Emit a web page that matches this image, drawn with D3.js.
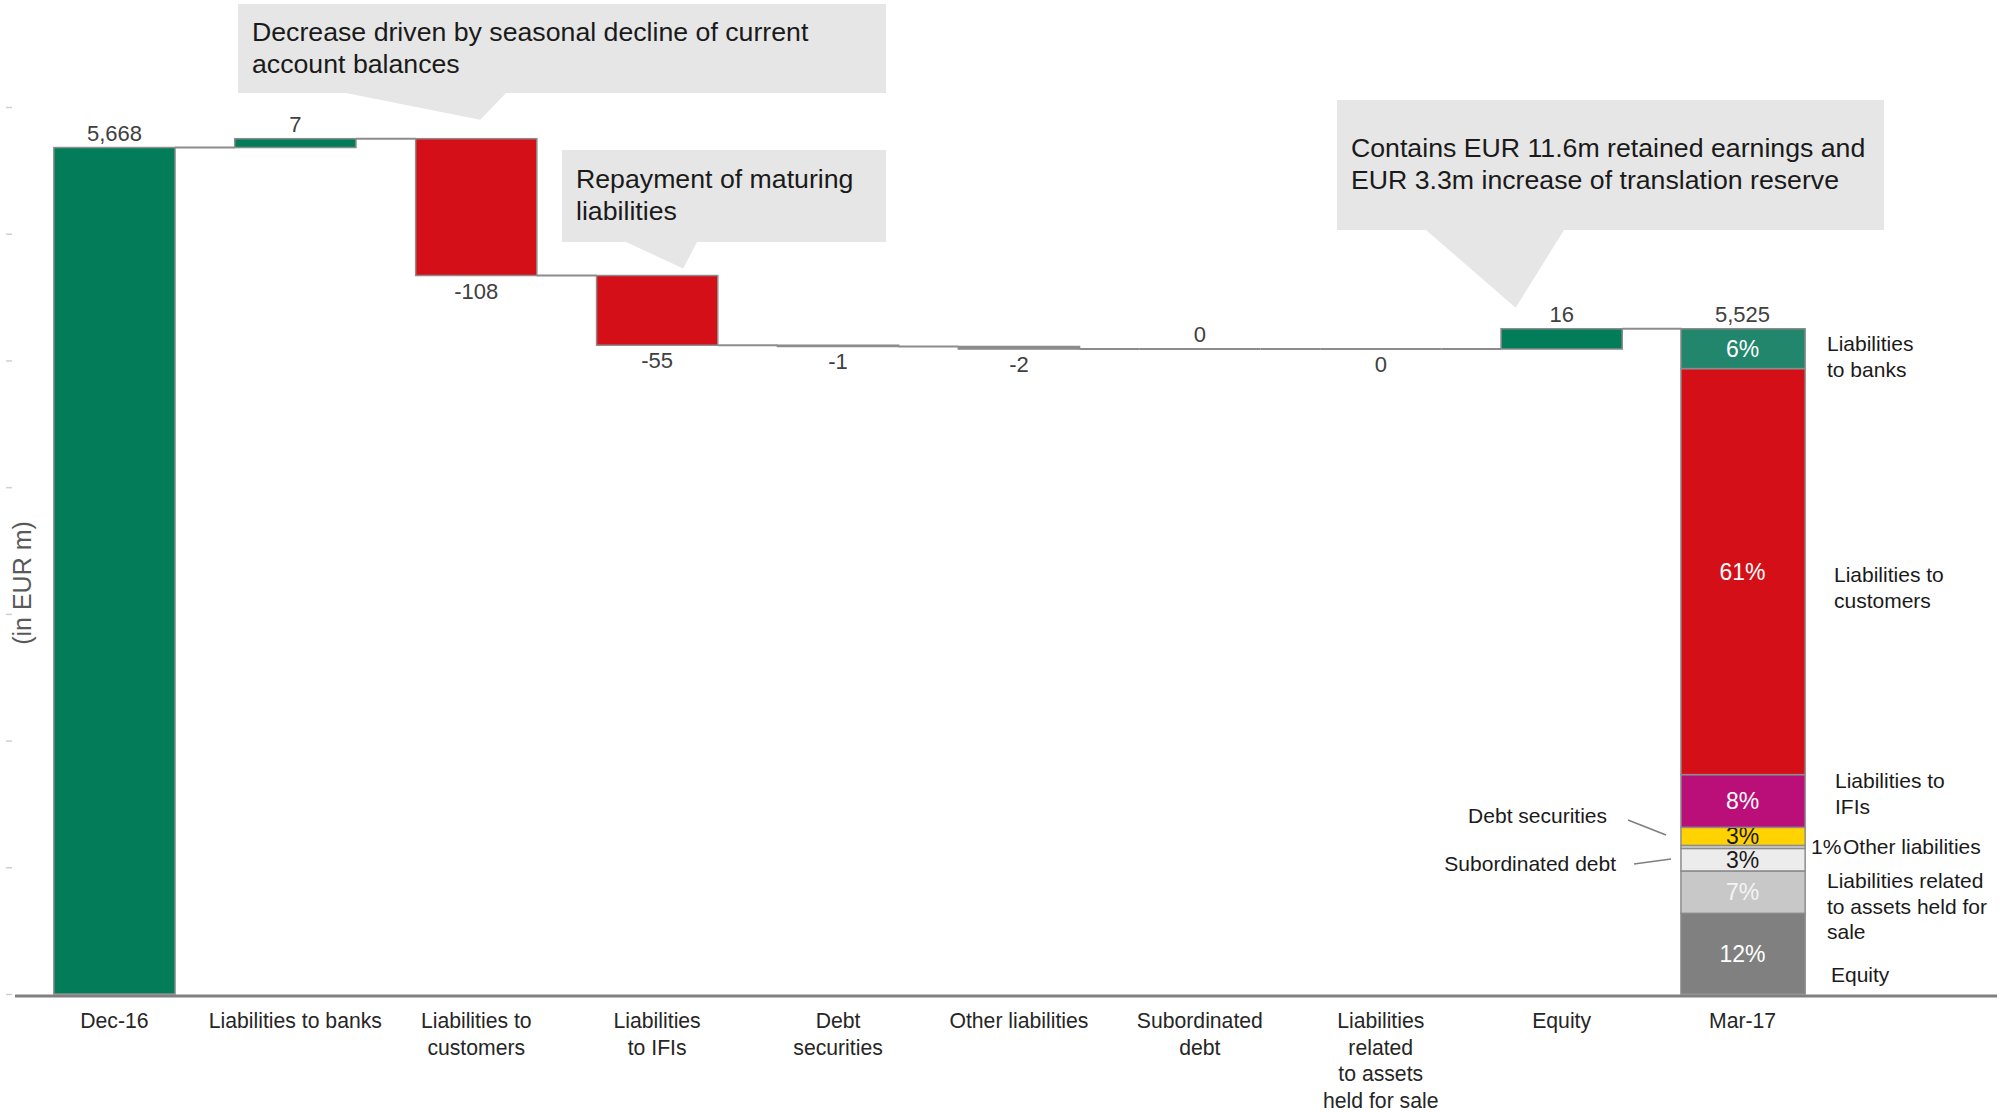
<!DOCTYPE html>
<html><head><meta charset="utf-8">
<script src="https://cdn.jsdelivr.net/npm/d3@7"></script>
<style>body{margin:0;background:#fff}svg{display:block;font-family:"Liberation Sans",Arial,sans-serif}</style>
</head><body><svg id="chart" width="2008" height="1112"></svg>
<script>
// ---- data ----
const categories = ["Dec-16","Liabilities to banks","Liabilities to customers","Liabilities to IFIs","Debt securities","Other liabilities","Subordinated debt","Liabilities related to assets held for sale","Equity","Mar-17"];
const categoryLines = [["Dec-16"],["Liabilities to banks"],["Liabilities to","customers"],["Liabilities","to IFIs"],["Debt","securities"],["Other liabilities"],["Subordinated","debt"],["Liabilities","related","to assets","held for sale"],["Equity"],["Mar-17"]];
const changes = [5668, 7, -108, -55, -1, -2, 0, 0, 16, 5525];
const barKinds = ["total","delta","delta","delta","delta","delta","delta","delta","delta","total"];
const valueLabels = ["5,668","7","-108","-55","-1","-2","0","0","16","5,525"];
const labelSide = ["above","above","below","below","below","below","above","below","above","above"];
const yTicks = [5000,5100,5200,5300,5400,5500,5600,5700];

const mar17Segments = ["Liabilities to banks","Liabilities to customers","Liabilities to IFIs","Debt securities","Other liabilities","Subordinated debt","Liabilities related to assets held for sale","Equity"];
const mar17Values = [331, 3372, 438, 150, 25, 187, 352, 670];
const mar17ShareLabels = ["6%","61%","8%","3%","","3%","7%","12%"];
const mar17Colors = ["#21866c","#d50f17","#ba0f78","#ffd200","#d9d9d9","#ececec","#c8c8c8","#808080"];
const mar17LabelColors = ["#ffffff","#ffffff","#ffffff","#1a1a1a","#1a1a1a","#1a1a1a","#f4f4f4","#ffffff"];

const callouts = [
  {lines:["Decrease driven by seasonal decline of current","account balances"], box:[238,4,648,89], base:[346,506], cat:2, tipDx:4, tipDy:-19},
  {lines:["Repayment of maturing","liabilities"], box:[562,150,324,92], base:[626,697], cat:3, tipDx:26, tipDy:-7},
  {lines:["Contains EUR 11.6m retained earnings and","EUR 3.3m increase of translation reserve"], box:[1337,100,547,130], base:[1426,1564], cat:8, tipDx:-46, tipDy:-21}
];

// ---- scales ----
const svg = d3.select("#chart");
const x = d3.scaleBand().domain(categories).range([24, 1833]).paddingInner(0.33).paddingOuter(0.165);
const y = d3.scaleLinear().domain([5000, 5700]).range([994, 107]);
const bw = x.bandwidth();

// compute waterfall
let run = 0;
const bars = categories.map((c,i)=>{
  let lo, hi, end;
  if (barKinds[i]==="total"){ lo = 5000; hi = changes[i]; run = changes[i]; end = run; }
  else { const s = run; run += changes[i]; lo = Math.min(s,run); hi = Math.max(s,run); end = run; }
  return {c, i, lo, hi, end, v: changes[i]};
});

// y ticks (unlabelled)
const yAxis = svg.append("g").attr("transform","translate(12,0)")
  .call(d3.axisLeft(y).tickValues(yTicks).tickFormat("").tickSize(6));
yAxis.select(".domain").remove();
yAxis.selectAll("line").attr("stroke","#d0d0d0").attr("stroke-width",1.5);

svg.append("text").attr("transform","translate(31,583) rotate(-90)")
  .attr("text-anchor","middle").attr("font-size",25).attr("fill","#595959").text("(in EUR m)");

// callouts
callouts.forEach(co=>{
  const [bx,by,w,h] = co.box;
  const tx = x(categories[co.cat]) + bw/2 + co.tipDx;
  const ty = y(bars[co.cat].hi) + co.tipDy;
  const p = `M${bx},${by}H${bx+w}V${by+h}H${co.base[1]}L${tx},${ty}L${co.base[0]},${by+h}H${bx}Z`;
  svg.append("path").attr("d",p).attr("fill","#e6e6e6");
  const t = svg.append("text").attr("font-size",26.7).attr("fill","#1a1a1a");
  co.lines.forEach((l,k)=> t.append("tspan").attr("x",bx+14).attr("y",by+ (h - co.lines.length*32)/2 + 32*k + 24).text(l));
});

// connectors
const conn = svg.append("g").attr("stroke","#8c8c8c").attr("stroke-width",2);
for (let i=0;i<bars.length-1;i++){
  const lvl = bars[i].end;
  conn.append("line").attr("x1",x(categories[i])+bw).attr("x2",x(categories[i+1]))
    .attr("y1",y(lvl)).attr("y2",y(lvl));
}

// delta & first total bars
const barG = svg.append("g");
bars.filter(b=>b.i<9).forEach(b=>{
  const fill = b.v>=0 ? "#037c5a" : "#d50f17";
  const h = y(b.lo)-y(b.hi);
  if (h < 0.5) {
    barG.append("line").attr("x1",x(b.c)).attr("x2",x(b.c)+bw)
      .attr("y1",y(b.hi)).attr("y2",y(b.hi)).attr("stroke","#8c8c8c").attr("stroke-width",2);
  } else {
    barG.append("rect").attr("x",x(b.c)).attr("width",bw)
      .attr("y",y(b.hi)).attr("height",h)
      .attr("fill", h < 4 ? "#8c8c8c" : fill).attr("stroke","#8c8c8c").attr("stroke-width",1.5);
  }
});

// Mar-17 stacked bar
const mar = bars[9];
const s = d3.scaleLinear().domain([0, d3.sum(mar17Values)]).range([y(5000), y(mar.hi)]);
let acc = 0;
const segs = [];
for (let k=mar17Values.length-1;k>=0;k--){
  segs.push({k, a:acc, b:acc+mar17Values[k]}); acc += mar17Values[k];
}
segs.forEach(sg=>{
  barG.append("rect").attr("x",x("Mar-17")-1).attr("width",bw+3)
    .attr("y",s(sg.b)).attr("height",s(sg.a)-s(sg.b))
    .attr("fill",mar17Colors[sg.k]).attr("stroke","#8c8c8c").attr("stroke-width",1.5);
  if (mar17ShareLabels[sg.k]) {
    barG.append("text").attr("x",x("Mar-17")+bw/2).attr("y",(s(sg.a)+s(sg.b))/2+8)
      .attr("text-anchor","middle").attr("font-size",23).attr("fill",mar17LabelColors[sg.k])
      .text(mar17ShareLabels[sg.k]);
  }
});

// value labels
bars.forEach(b=>{
  const yy = labelSide[b.i]==="above" ? y(b.hi)-7 : y(b.lo)+23;
  svg.append("text").attr("x",x(b.c)+bw/2).attr("y",yy).attr("text-anchor","middle")
    .attr("font-size",22).attr("fill","#404040").text(valueLabels[b.i]);
});

// x axis line
svg.append("line").attr("x1",15).attr("x2",1997).attr("y1",y(5000)+2).attr("y2",y(5000)+2)
  .attr("stroke","#808080").attr("stroke-width",3);

// category labels
categories.forEach((c,i)=>{
  const t = svg.append("text").attr("text-anchor","middle").attr("font-size",21.2).attr("fill","#262626");
  categoryLines[i].forEach((l,k)=> t.append("tspan").attr("x",x(c)+bw/2).attr("y",1028+k*26.5).text(l));
});

// Mar-17 segment annotations
const ann = [
  {lines:["Liabilities","to banks"], x:1827, y:351},
  {lines:["Liabilities to","customers"], x:1834, y:582},
  {lines:["Liabilities to","IFIs"], x:1835, y:788},
  {lines:["1%"], x:1811, y:854},
  {lines:["Other liabilities"], x:1843, y:854},
  {lines:["Liabilities related","to assets held for","sale"], x:1827, y:888},
  {lines:["Equity"], x:1831, y:982},
  {lines:["Debt securities"], x:1607, y:823, anchor:"end"},
  {lines:["Subordinated debt"], x:1616, y:871, anchor:"end"}
];
ann.forEach(a=>{
  const t = svg.append("text").attr("font-size",21).attr("fill","#1a1a1a").attr("text-anchor",a.anchor||"start");
  a.lines.forEach((l,k)=> t.append("tspan").attr("x",a.x).attr("y",a.y+k*25.5).text(l));
});
svg.append("line").attr("x1",1628).attr("y1",820).attr("x2",1666).attr("y2",835).attr("stroke","#7f7f7f").attr("stroke-width",1.5);
svg.append("line").attr("x1",1634).attr("y1",864).attr("x2",1671).attr("y2",859).attr("stroke","#7f7f7f").attr("stroke-width",1.5);
</script></body></html>
